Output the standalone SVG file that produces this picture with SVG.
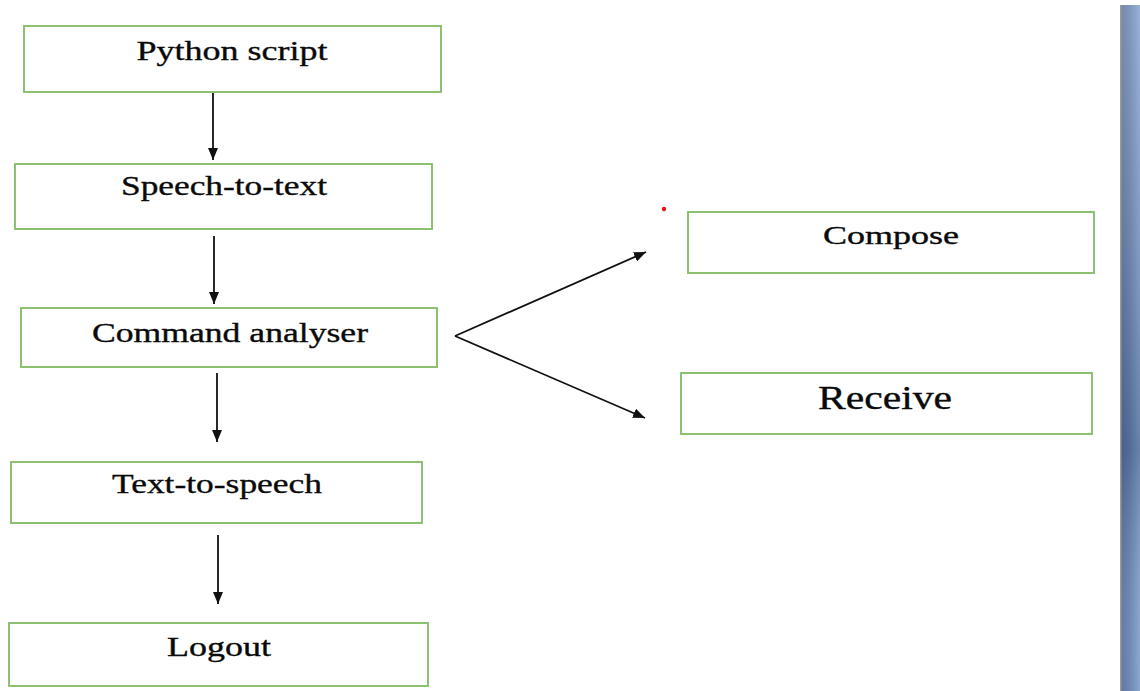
<svg xmlns="http://www.w3.org/2000/svg" width="1140" height="691" viewBox="0 0 1140 691">
  <defs>
    <style>
      .box { fill: #ffffff; stroke: #8cc171; stroke-width: 2; }
      .lbl { font-family: "Liberation Serif", "Times New Roman", serif; fill: #0a0a0a; stroke: #0a0a0a; stroke-width: 0.35; text-anchor: middle; }
      .conn { stroke: #111111; stroke-width: 1.8; fill: none; marker-end: url(#arrow); }
    </style>
    <marker id="arrow" viewBox="0 0 12 10" refX="12" refY="5" markerWidth="12" markerHeight="10" markerUnits="userSpaceOnUse" orient="auto">
      <path d="M0,0 L12,5 L0,10 Z" fill="#111111"/>
    </marker>
    <linearGradient id="stripH" x1="0" y1="0" x2="1" y2="0">
      <stop offset="0" stop-color="#5a749c"/>
      <stop offset="0.5" stop-color="#6a86b2"/>
      <stop offset="1" stop-color="#88a4ce"/>
    </linearGradient>
    <linearGradient id="stripV" x1="0" y1="0" x2="0" y2="1">
      <stop offset="0" stop-color="#ffffff" stop-opacity="0.15"/>
      <stop offset="0.65" stop-color="#001030" stop-opacity="0.22"/>
      <stop offset="1" stop-color="#ffffff" stop-opacity="0.02"/>
    </linearGradient>
  </defs>
  <rect x="0" y="0" width="1140" height="691" fill="#ffffff"/>
  <g id="side-strip">
    <rect x="1120" y="5" width="20" height="686" fill="url(#stripH)"/>
    <rect x="1120" y="5" width="20" height="686" fill="url(#stripV)"/>
    <rect x="1120" y="5" width="1.5" height="686" fill="#9a9a9a"/>
  </g>
  <g id="connectors">
    <line class="conn" x1="213" y1="92" x2="213" y2="160"/>
    <line class="conn" x1="214" y1="236" x2="214" y2="304"/>
    <line class="conn" x1="217" y1="373" x2="217" y2="442"/>
    <line class="conn" x1="218" y1="535" x2="218" y2="604"/>
    <line class="conn" x1="455" y1="336" x2="646" y2="252"/>
    <line class="conn" x1="455" y1="336" x2="645" y2="418"/>
  </g>
  <g id="node-python">
    <rect class="box" x="24" y="26" width="417" height="66"/>
    <text class="lbl" x="232" y="60" font-size="28" textLength="191" lengthAdjust="spacingAndGlyphs">Python script</text>
  </g>
  <g id="node-stt">
    <rect class="box" x="15" y="164" width="417" height="65"/>
    <text class="lbl" x="224" y="195" font-size="27" textLength="206" lengthAdjust="spacingAndGlyphs">Speech-to-text</text>
  </g>
  <g id="node-command">
    <rect class="box" x="21" y="308" width="416" height="59"/>
    <text class="lbl" x="230" y="342" font-size="28" textLength="276" lengthAdjust="spacingAndGlyphs">Command analyser</text>
  </g>
  <g id="node-tts">
    <rect class="box" x="11" y="462" width="411" height="61"/>
    <text class="lbl" x="217" y="493" font-size="28" textLength="210" lengthAdjust="spacingAndGlyphs">Text-to-speech</text>
  </g>
  <g id="node-logout">
    <rect class="box" x="9" y="623" width="419" height="63"/>
    <text class="lbl" x="219" y="656" font-size="27" textLength="104" lengthAdjust="spacingAndGlyphs">Logout</text>
  </g>
  <g id="node-compose">
    <rect class="box" x="688" y="212" width="406" height="61"/>
    <text class="lbl" x="891" y="244" font-size="25" textLength="136" lengthAdjust="spacingAndGlyphs">Compose</text>
  </g>
  <g id="node-receive">
    <rect class="box" x="681" y="373" width="411" height="61"/>
    <text class="lbl" x="885" y="409" font-size="33" textLength="134" lengthAdjust="spacingAndGlyphs">Receive</text>
  </g>
  <circle cx="664" cy="209" r="2.2" fill="#e8101a"/>
</svg>
